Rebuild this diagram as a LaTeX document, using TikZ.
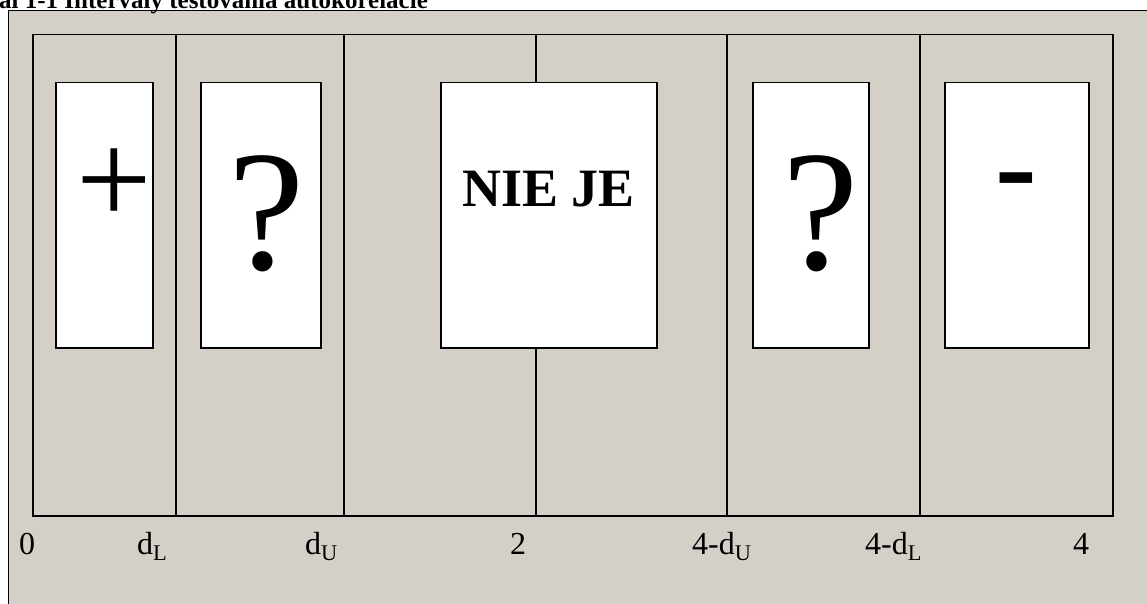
\documentclass[tikz,border=0pt]{standalone}
\usepackage{fontspec}
\setmainfont{Liberation Serif}
\usepackage{xcolor}
\usepackage{tikz}
\usetikzlibrary{positioning}
\definecolor{PanelGray}{HTML}{D4D0C8}

\begin{document}
\begin{tikzpicture}[x=1pt, y=-1pt,
  box/.style={draw, line width=1.5pt, fill=white, inner sep=0pt, anchor=north west, minimum height=265pt},
  sym/.style={inner sep=0pt, anchor=base},
  tick/.style={inner sep=0pt, anchor=base west, font=\fontsize{32}{32}\selectfont}]

  \clip (0,0) rectangle (1147,604);
  \fill[PanelGray] (8,11) rectangle (1160,620);
  \draw[line width=1pt] (8,620) -- (8,11) -- (1160,11);
  \node[inner sep=0pt, anchor=base west, font=\fontsize{25}{25}\selectfont\bfseries] (title) at (-1,9)
    {al 1-1 Intervaly testovania autokorelacie};

  % frame and dividers
  \node[draw, line width=1.5pt, minimum width=1080pt, minimum height=481pt, inner sep=0pt, anchor=north west] (fr) at (32,34) {};
  \foreach \x in {176,344,727,920}
    \draw[line width=1.5pt] (\x,34) -- (\x,515);

  % boxes
  \node[box, minimum width=97pt] (b1) at (55,82) {};
  \node[box, minimum width=120pt] (b2) at (200,82) {};
  \node[box, minimum width=216pt] (b3) at (440,82) {};
  \node[box, minimum width=116pt] (b4) at (752,82) {};
  \node[box, minimum width=144pt] (b5) at (944,82) {};
  \coordinate (mid) at (536,0);
  \draw[line width=1.5pt] (fr.north -| mid) -- (b3.north -| mid);
  \draw[line width=1.5pt] (b3.south -| mid) -- (fr.south -| mid);

  \node[sym, font=\fontsize{134}{134}\selectfont] (plus) at (114.5,224) {+};
  \node[sym, font=\fontsize{172}{172}\selectfont] (q1) at (267,269) {?};
  \node[sym, font=\fontsize{54}{54}\selectfont\bfseries] (nie) at (b3.center |- 0,206) {NIE JE};
  \node[sym, font=\fontsize{172}{172}\selectfont] (q2) at (821,269) {?};
  \node[sym, font=\fontsize{125}{125}\selectfont\bfseries] (minus) at (1016,207) {-};

  % axis values
  \node[tick] (t0) at (19,554) {0};
  \node[tick] (tL) at (137,554) {d\textsubscript{L}};
  \node[tick] (tU) at (305,554) {d\textsubscript{U}};
  \node[tick] (t2) at (510,554) {2};
  \node[tick] (t4U) at (692,554) {4-d\textsubscript{U}};
  \node[tick] (t4L) at (865,554) {4-d\textsubscript{L}};
  \node[tick] (t4) at (1073,554) {4};
\end{tikzpicture}
\end{document}
